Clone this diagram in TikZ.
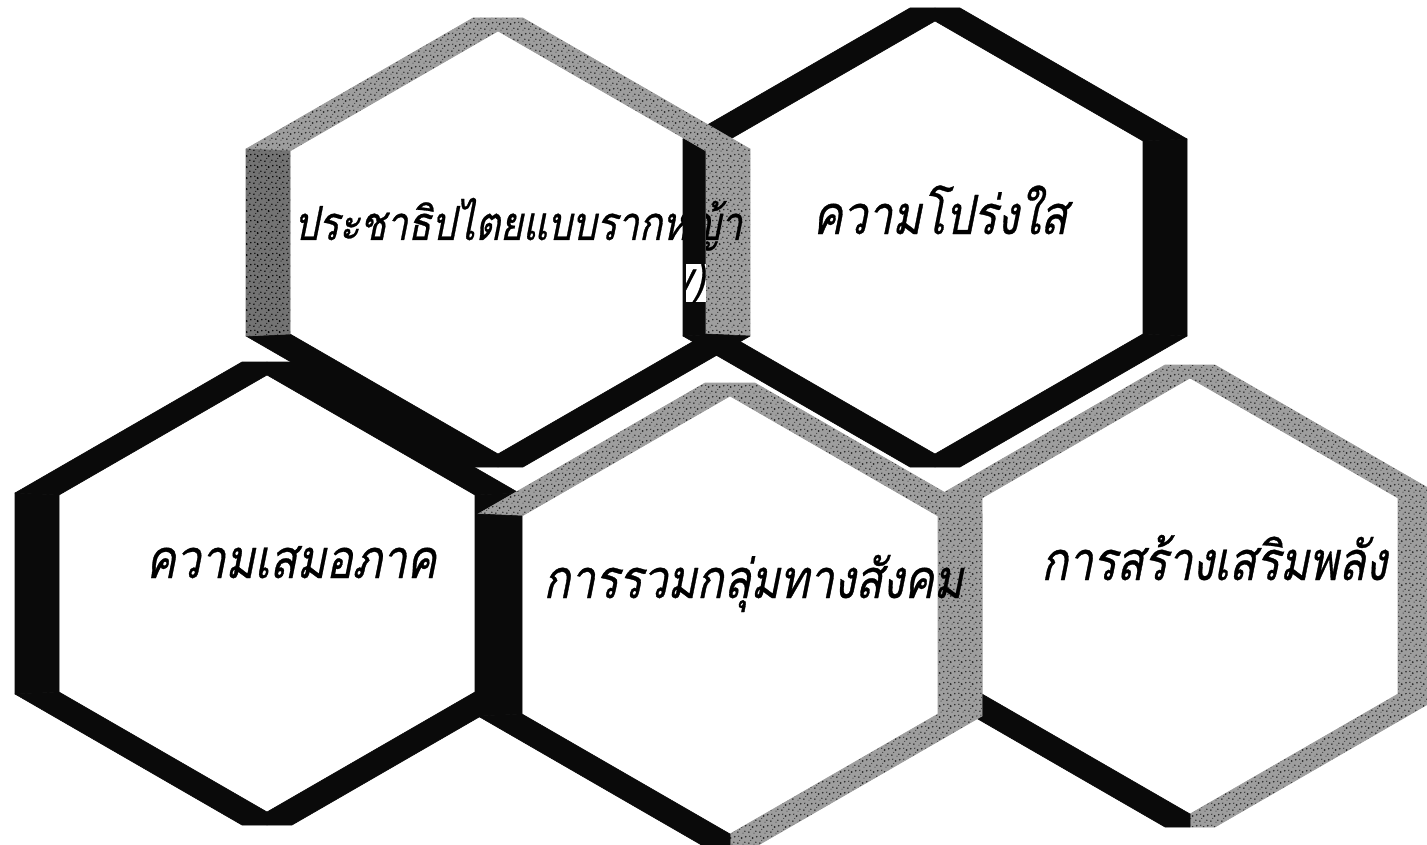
\documentclass[tikz,border=0pt]{standalone}
\usepackage{fontspec}
\usetikzlibrary{patterns}
\newfontfamily\thaifont[Script=Thai,FakeSlant=0.2,FakeStretch=0.82,FakeBold=0.6]{Loma}
\definecolor{hg}{gray}{0.62}
\definecolor{hd}{gray}{0.45}
\definecolor{hk}{gray}{0.04}
\pgfdeclarepatternformonly{speck}{\pgfpointorigin}{\pgfpoint{11pt}{11pt}}{\pgfpoint{11pt}{11pt}}{%
 \pgfpathcircle{\pgfpoint{1pt}{2pt}}{0.9pt}
 \pgfpathcircle{\pgfpoint{5pt}{7.5pt}}{1.1pt}
 \pgfpathcircle{\pgfpoint{8.5pt}{3pt}}{0.8pt}
 \pgfpathcircle{\pgfpoint{3pt}{5pt}}{0.6pt}
 \pgfpathcircle{\pgfpoint{9.5pt}{9pt}}{0.9pt}
 \pgfpathcircle{\pgfpoint{6.5pt}{1pt}}{0.6pt}
 \pgfpathcircle{\pgfpoint{2pt}{9.5pt}}{0.7pt}
 \pgfusepath{fill}}
% interior of a hexagon: centre x, outer top y, outer bottom y
\newcommand{\hexin}[3]{%
 \fill[white] ({#1},{#2+13}) -- ({#1+208},{#2+133}) -- ({#1+208},{#3-133}) -- ({#1},{#3-13}) -- ({#1-208},{#3-133}) -- ({#1-208},{#2+133}) -- cycle;}
% frame of a hexagon: centre x, top y, bottom y, edge styles UL UR R LR LL L
\newcommand{\hexfr}[9]{%
 \path[#4] ({#1-252},{#2+131}) -- ({#1-25},{#2}) -- ({#1},{#2}) -- ({#1},{#2+13}) -- ({#1-208},{#2+133}) -- cycle;
 \path[#5] ({#1},{#2}) -- ({#1+25},{#2}) -- ({#1+252},{#2+131}) -- ({#1+208},{#2+133}) -- ({#1},{#2+13}) -- cycle;
 \path[#6] ({#1+252},{#2+131}) -- ({#1+252},{#3-131}) -- ({#1+208},{#3-133}) -- ({#1+208},{#2+133}) -- cycle;
 \path[#7] ({#1+252},{#3-131}) -- ({#1+25},{#3}) -- ({#1},{#3}) -- ({#1},{#3-13}) -- ({#1+208},{#3-133}) -- cycle;
 \path[#8] ({#1},{#3}) -- ({#1-25},{#3}) -- ({#1-252},{#3-131}) -- ({#1-208},{#3-133}) -- ({#1},{#3-13}) -- cycle;
 \path[#9] ({#1-252},{#3-131}) -- ({#1-252},{#2+131}) -- ({#1-208},{#2+133}) -- ({#1-208},{#3-133}) -- cycle;}
\tikzset{
 seam/.style={line width=0.6pt,line join=round},
 ke/.style={fill=hk,draw=hk,seam},
 ge/.style={fill=hg,draw=hg,seam,postaction={pattern=speck,pattern color=black!85}},
 de/.style={fill=hd,draw=hd,seam,postaction={pattern=speck,pattern color=black}},
 lbl/.style={anchor=base,inner sep=0pt,text=black,font=\thaifont\fontsize{54}{60}\selectfont},
 lblsmall/.style={lbl,font=\thaifont\fontsize{47}{54}\selectfont}
}
\begin{document}
\begin{tikzpicture}[x=1pt,y=-1pt]
\useasboundingbox (0,0) rectangle (1427,845);
\fill[white] (0,0) rectangle (1427,845);
% bottom row
\hexin{267}{362}{825}
\hexfr{267}{362}{825}{ke}{ke}{ke}{ke}{ke}{ke}
\node[lbl] (t3) at (291,578) {ความเสมอภาค};
\hexin{1190}{365}{827}
\hexfr{1190}{365}{827}{ge}{ge}{ge}{ge}{ke}{ge}
\node[lbl] (t5) at (1214,580) {การสร้างเสริมพลัง};
\hexin{730}{383}{847}
\hexfr{730}{383}{847}{ge}{ge}{ge}{ge}{ke}{ke}
\node[lbl] (t4) at (753,598) {การรวมกลุ่มทางสังคม};
% top row
\hexin{498}{18}{467}
\node[lblsmall] (t1) at (518,240) {ประชาธิปไตยแบบรากหญ้า};
\hexin{935}{8}{467}
\hexfr{935}{8}{467}{ke}{ke}{ke}{ke}{ke}{ke}
\node[lbl] (t2) at (940,234) {ความโปร่งใส};
\hexfr{498}{18}{467}{ge}{ge}{ge}{ke}{ke}{de}
\begin{scope}
 \clip (706,150) rectangle (760,348);
 \node[lblsmall] (t1r) at (518,240) {ประชาธิปไตยแบบรากหญ้า};
\end{scope}
\begin{scope}
 \clip (686,264) rectangle (706,302);
 \fill[white] (686,264) rectangle (706,302);
 \node[lblsmall,anchor=base east] (t1b) at (705,294) {y)};
\end{scope}
\end{tikzpicture}
\end{document}
